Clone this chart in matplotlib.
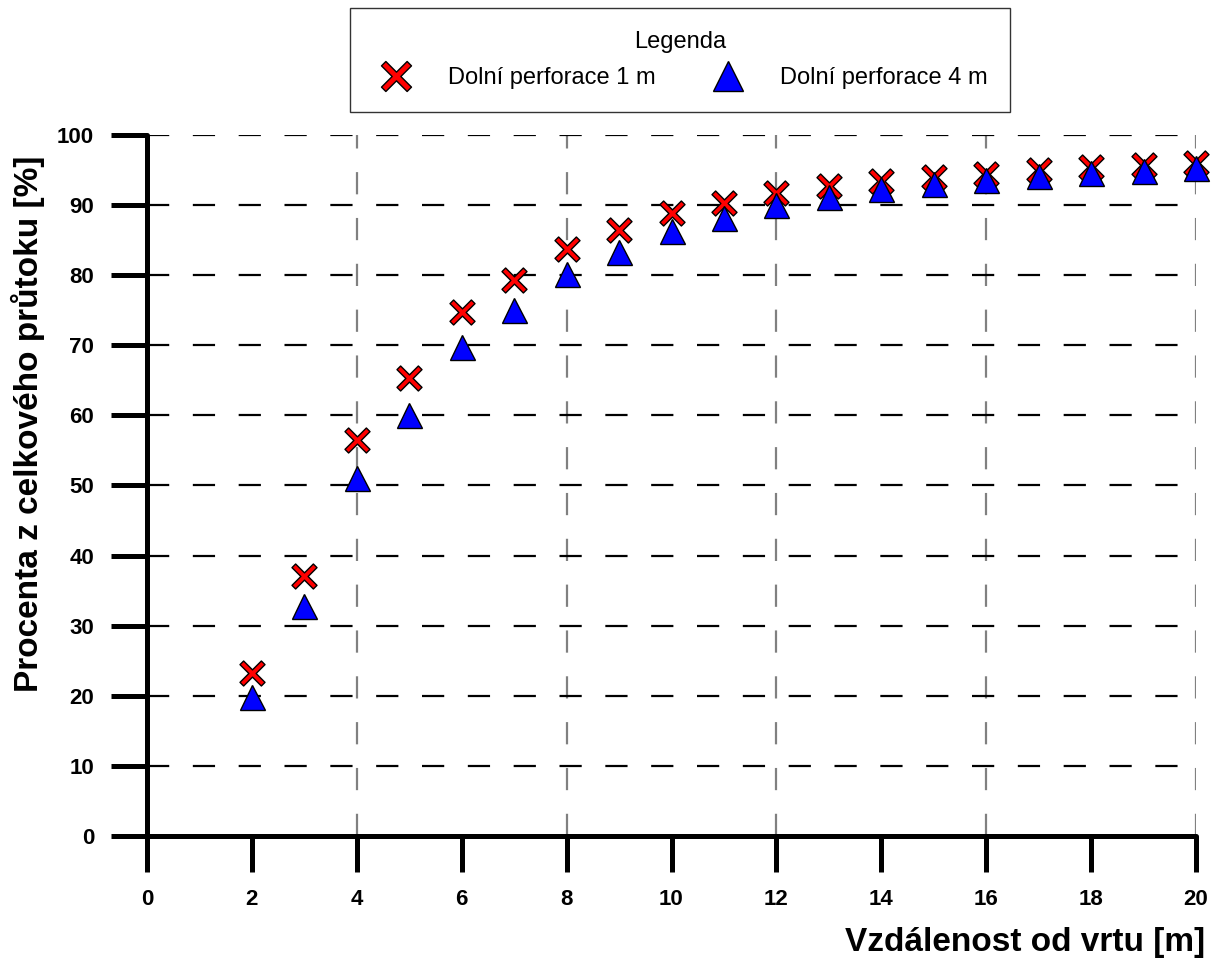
import numpy as np
import matplotlib
matplotlib.use('Agg')
import matplotlib.pyplot as plt
from matplotlib.path import Path

plt.rcParams['font.family'] = ['Liberation Sans', 'DejaVu Sans']
plt.rcParams['lines.scale_dashes'] = False

# Data
distance = [2, 3, 4, 5, 6, 7, 8, 9, 10, 11, 12, 13, 14, 15, 16, 17, 18, 19, 20]
perf_1m = [23.2, 37.1, 56.5, 65.4, 74.7, 79.3, 83.8, 86.4, 88.9, 90.3, 91.7, 92.7,
           93.5, 94.0, 94.5, 95.0, 95.4, 95.7, 96.0]
perf_4m = [19.8, 32.8, 51.0, 60.1, 69.8, 75.0, 80.2, 83.3, 86.3, 88.2, 90.0, 91.2,
           92.3, 93.0, 93.6, 94.1, 94.6, 94.9, 95.3]

x_ticks = [0, 2, 4, 6, 8, 10, 12, 14, 16, 18, 20]
y_ticks = [0, 10, 20, 30, 40, 50, 60, 70, 80, 90, 100]
v_grid = [4, 8, 12, 16, 20]
h_grid = [10, 20, 30, 40, 50, 60, 70, 80, 90, 100]

# thinner cross marker than matplotlib's 'X'
w = 0.17
plus = np.array([(-w, 1), (w, 1), (w, w), (1, w), (1, -w), (w, -w), (w, -1),
                 (-w, -1), (-w, -w), (-1, -w), (-1, w), (-w, w), (-w, 1)])
c = np.cos(np.pi / 4)
rot = np.array([[c, -c], [c, c]])
cross = Path(plus @ rot.T, closed=True)

fig = plt.figure(figsize=(12.17, 9.59), dpi=100)
ax = fig.add_axes([147 / 1217, 123 / 959, 1049 / 1217, 701 / 959])

# grid lines
for gx in v_grid:
    ax.axvline(gx, color='#808080', lw=1.6, dashes=(16, 17), zorder=1)
for gy in h_grid:
    ax.axhline(gy, color='black', lw=1.6, dashes=(16, 17), zorder=1)

ax.plot(distance, perf_1m, linestyle='none', marker=cross, ms=18, mfc='red',
        mec='black', mew=1, label='Dolní perforace 1 m', zorder=3, clip_on=False)
ax.plot(distance, perf_4m, linestyle='none', marker='^', ms=18, mfc='blue',
        mec='black', mew=1, label='Dolní perforace 4 m', zorder=3, clip_on=False)

ax.set_xlim(0, 20)
ax.set_ylim(0, 100)
ax.set_xticks(x_ticks)
ax.set_yticks(y_ticks)

for s in ['top', 'right']:
    ax.spines[s].set_visible(False)
for s in ['left', 'bottom']:
    ax.spines[s].set_linewidth(3.6)
    ax.spines[s].set_capstyle('round')

ax.tick_params(axis='both', direction='out', length=26, width=3.6,
               labelsize=16, pad=12)
for lbl in ax.get_xticklabels() + ax.get_yticklabels():
    lbl.set_fontweight('bold')

fig.text(28 / 1217, 1 - 424 / 959, 'Procenta z celkového průtoku [%]', fontsize=24,
         fontweight='bold', rotation=90, ha='center', va='center')
fig.text(1205 / 1217, 17 / 959, 'Vzdálenost od vrtu [m]', fontsize=24,
         fontweight='bold', ha='right', va='center')

leg = fig.legend(loc='center', bbox_to_anchor=(680 / 1217, 1 - 60 / 959), ncol=2,
                 title='Legenda', fontsize=17, title_fontsize=17, frameon=True,
                 fancybox=False, edgecolor='black', markerscale=1.2,
                 columnspacing=2.1, handletextpad=1.2, borderpad=0.95,
                 labelspacing=0.6)
leg.get_frame().set_linewidth(1.0)

fig.savefig('out.png', dpi=100)
